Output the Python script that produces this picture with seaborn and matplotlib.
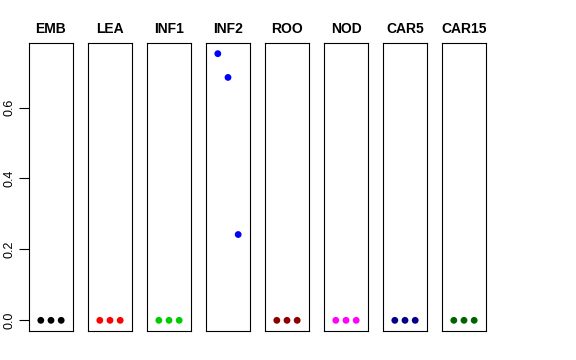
import numpy as np
import pandas as pd
import matplotlib
matplotlib.use("Agg")
import matplotlib.pyplot as plt
import seaborn as sns

# tissue panels, three replicates each
tissues = ["EMB", "LEA", "INF1", "INF2", "ROO", "NOD", "CAR5", "CAR15"]
replicate = [1, 2, 3]
emb = [0.0, 0.0, 0.0]
lea = [0.0, 0.0, 0.0]
inf1 = [0.0, 0.0, 0.0]
inf2 = [0.752, 0.685, 0.242]
roo = [0.0, 0.0, 0.0]
nod = [0.0, 0.0, 0.0]
car5 = [0.0, 0.0, 0.0]
car15 = [0.0, 0.0, 0.0]
colors = ["black", "#FF0000", "#00CD00", "#0000FF", "#8B0000", "#FF00FF", "#00008B", "#006400"]
yticks = [0.0, 0.2, 0.4, 0.6]

values = [emb, lea, inf1, inf2, roo, nod, car5, car15]
df = pd.DataFrame({
    "tissue": np.repeat(tissues, len(replicate)),
    "rep": replicate * len(tissues),
    "expr": np.concatenate(values),
})

sns.set_style("white")
plt.rcParams["font.family"] = ["Liberation Sans", "DejaVu Sans"]

W, H = 576, 360
fig = plt.figure(figsize=(W / 100, H / 100), dpi=100)

left0, step, width = 29, 59, 44
top, bottom = 43, 331
ymax = max(max(v) for v in values)
pad = 0.04 * ymax

for i, (t, c) in enumerate(zip(tissues, colors)):
    ax = fig.add_axes([(left0 + i * step) / W, 1 - bottom / H, width / W, (bottom - top) / H])
    sns.scatterplot(data=df[df["tissue"] == t], x="rep", y="expr", color=c,
                    s=24, edgecolor="none", ax=ax, legend=False)
    ax.set_xlim(-0.16, 4.16)
    ax.set_ylim(-pad, ymax + pad)
    ax.set_xlabel("")
    ax.set_ylabel("")
    ax.set_xticks([])
    ax.set_title(t, fontsize=10, fontweight="bold", pad=7, color="black")
    for sp in ax.spines.values():
        sp.set_visible(True)
        sp.set_color("black")
        sp.set_linewidth(0.8)
    if i == 0:
        ax.set_yticks(yticks)
        ax.set_yticklabels([f"{v:.1f}" for v in yticks], rotation=90, va="center", fontsize=9)
        ax.tick_params(axis="y", left=True, length=7, width=0.8, pad=3,
                       color="black", labelcolor="black")
    else:
        ax.set_yticks([])

fig.savefig("out.png", dpi=100)
